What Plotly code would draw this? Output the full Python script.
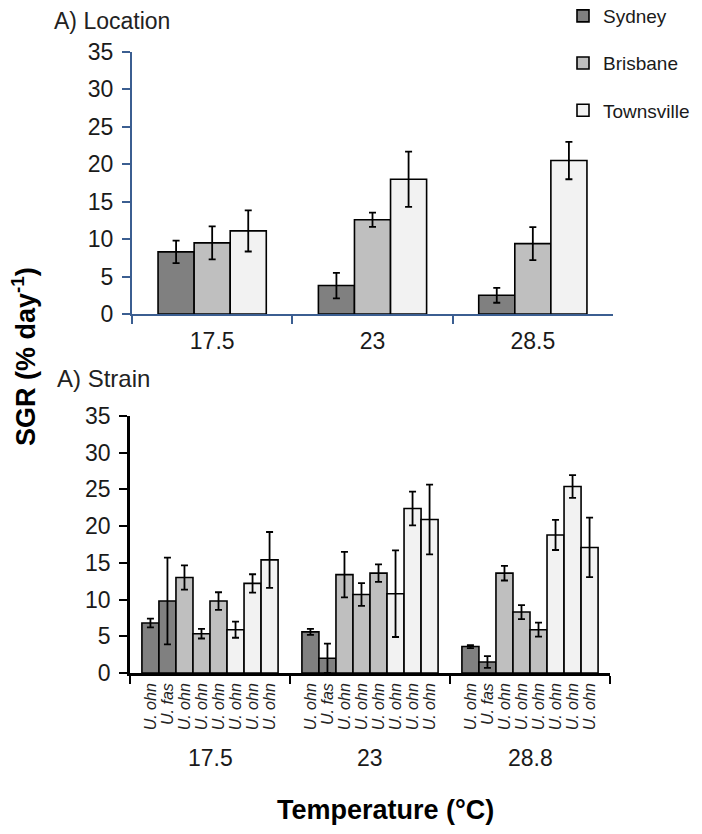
import plotly.graph_objects as go

# ---------------- data ----------------
locations = ["Sydney", "Brisbane", "Townsville"]
temps_top = ["17.5", "23", "28.5"]
sydney = [8.3, 3.8, 2.5]
sydney_err = [1.5, 1.7, 1.0]
brisbane = [9.5, 12.6, 9.4]
brisbane_err = [2.2, 0.95, 2.2]
townsville = [11.1, 18.0, 20.5]
townsville_err = [2.75, 3.7, 2.5]

temps_bottom = ["17.5", "23", "28.8"]
strains = ["U. ohn", "U. fas", "U. ohn", "U. ohn", "U. ohn", "U. ohn", "U. ohn", "U. ohn"]
strain_origin = ["Sydney", "Sydney", "Brisbane", "Brisbane", "Brisbane",
                 "Townsville", "Townsville", "Townsville"]
sgr_175 = [6.8, 9.8, 13.0, 5.35, 9.8, 5.9, 12.2, 15.4]
sgr_175_err = [0.6, 5.9, 1.65, 0.65, 1.2, 1.1, 1.25, 3.8]
sgr_23 = [5.6, 2.0, 13.4, 10.7, 13.6, 10.8, 22.4, 20.9]
sgr_23_err = [0.4, 2.0, 3.1, 1.55, 1.2, 5.9, 2.3, 4.75]
sgr_288 = [3.6, 1.5, 13.6, 8.3, 5.9, 18.8, 25.4, 17.1]
sgr_288_err = [0.2, 0.8, 1.0, 0.95, 0.95, 2.05, 1.55, 4.05]

# ---------------- style ----------------
FONT = "Liberation Sans, Arial, sans-serif"
colors = {"Sydney": "#808080", "Brisbane": "#bfbfbf", "Townsville": "#f2f2f2"}
BLUE = "#3b5e91"
TXT = "#1a1a1a"
PAGE_MARGIN = 8          # default body margin of the page
W, H = 702 - PAGE_MARGIN, 834 - PAGE_MARGIN
GROUP_SPAN = 9.4  # width of one temperature group, in bar widths

def px(x):
    return (x - PAGE_MARGIN) / W

def py(y):
    return 1 - (y - PAGE_MARGIN) / H

fig = go.Figure()

# ---------------- top panel ----------------
for name, vals, errs in [("Sydney", sydney, sydney_err),
                         ("Brisbane", brisbane, brisbane_err),
                         ("Townsville", townsville, townsville_err)]:
    fig.add_trace(go.Bar(
        x=temps_top, y=vals, name=name, legendgroup=name,
        marker=dict(color=colors[name], line=dict(color="black", width=1.6)),
        error_y=dict(type="data", array=errs, color="black", thickness=1.8, width=3.5),
        xaxis="x", yaxis="y",
    ))

# ---------------- bottom panel ----------------
groups = [(sgr_175, sgr_175_err), (sgr_23, sgr_23_err), (sgr_288, sgr_288_err)]
for loc in locations:
    xs, ys, es = [], [], []
    for g, (vals, errs) in enumerate(groups):
        for i, (v, e) in enumerate(zip(vals, errs)):
            if strain_origin[i] == loc:
                xs.append(g * GROUP_SPAN + (i - 3.5))
                ys.append(v)
                es.append(e)
    fig.add_trace(go.Bar(
        x=xs, y=ys, width=1, showlegend=False, name=loc,
        marker=dict(color=colors[loc], line=dict(color="black", width=1.6)),
        error_y=dict(type="data", array=es, color="black", thickness=1.8, width=3.5),
        xaxis="x2", yaxis="y2",
    ))

strain_x = [g * GROUP_SPAN + (i - 3.5) for g in range(len(temps_bottom)) for i in range(len(strains))]
strain_text = strains * len(temps_bottom)
# invisible trace to activate the label axis
fig.add_trace(go.Scatter(x=[strain_x[0]], y=[0], mode="markers", marker=dict(opacity=0),
                         showlegend=False, hoverinfo="skip", xaxis="x3", yaxis="y2"))

rng2 = [-GROUP_SPAN / 2, GROUP_SPAN * (len(temps_bottom) - 0.5)]
bounds = [-GROUP_SPAN / 2 + k * GROUP_SPAN for k in range(len(temps_bottom) + 1)]

tickfont = dict(family=FONT, size=23, color=TXT)
fig.update_layout(
    width=W, height=H,
    margin=dict(l=0, r=0, t=0, b=0, autoexpand=False),
    paper_bgcolor="white", plot_bgcolor="white",
    barmode="group", bargap=0.325, bargroupgap=0,
    showlegend=True,
    legend=dict(x=px(563), y=py(-3), xanchor="left", yanchor="top",
                font=dict(family=FONT, size=19, color=TXT),
                tracegroupgap=19.5, bgcolor="rgba(0,0,0,0)"),
    xaxis=dict(domain=[px(132), px(613)], anchor="y", type="category",
               range=[-0.5, 2.5], tickson="boundaries", ticks="outside", ticklen=8,
               tickwidth=1.5, tickcolor=BLUE, showline=True, linecolor=BLUE, linewidth=2,
               tickfont=tickfont, ticklabelstandoff=5, showgrid=False, zeroline=False,
               automargin=False),
    yaxis=dict(domain=[py(314), py(52)], anchor="x", range=[0, 35], dtick=5,
               ticks="outside", ticklen=8, tickwidth=1.5, tickcolor=BLUE,
               showline=True, linecolor=BLUE, linewidth=2, tickfont=tickfont,
               ticklabelstandoff=4, showgrid=False, zeroline=False, automargin=False),
    xaxis2=dict(domain=[px(130), px(610)], anchor="y2", range=rng2,
                tickmode="array", tickvals=bounds, showticklabels=False,
                ticks="outside", ticklen=8, tickwidth=2, tickcolor="black",
                showline=True, linecolor="black", linewidth=2.5,
                showgrid=False, zeroline=False, automargin=False),
    xaxis3=dict(overlaying="x2", anchor="y2", range=rng2, side="bottom",
                tickmode="array", tickvals=strain_x, ticktext=strain_text,
                tickangle=-90, ticks="", showline=False, showgrid=False, zeroline=False,
                tickfont=dict(family=FONT, size=16, color="#222222", style="italic"),
                ticklabelstandoff=6, automargin=False),
    yaxis2=dict(domain=[py(673), py(416)], anchor="x2", range=[0, 35], dtick=5,
                ticks="outside", ticklen=8, tickwidth=2, tickcolor="black",
                showline=True, linecolor="black", linewidth=2.5, tickfont=tickfont,
                ticklabelstandoff=4, showgrid=False, zeroline=False, automargin=False),
)

annots = [
    dict(text="A) Location", x=px(52), y=py(21), xanchor="left", yanchor="middle",
         font=dict(family=FONT, size=23, color="#222222")),
    dict(text="A) Strain", x=px(55), y=py(378), xanchor="left", yanchor="middle",
         font=dict(family=FONT, size=24, color="#222222")),
    dict(text="<b>SGR (% day<sup>-1</sup>)</b>", x=px(24), y=py(357), textangle=-90,
         xanchor="center", yanchor="middle",
         font=dict(family=FONT, size=27, color="black")),
    dict(text="<b>Temperature (°C)</b>", x=px(275), y=py(810), xanchor="left",
         yanchor="middle", font=dict(family=FONT, size=27, color="black")),
]
for g, t in enumerate(temps_bottom):
    annots.append(dict(text=t, x=g * GROUP_SPAN, xref="x2", y=py(758), yref="paper",
                       xanchor="center", yanchor="middle", font=tickfont))
for a in annots:
    a.setdefault("xref", "paper")
    a.setdefault("yref", "paper")
    a["showarrow"] = False
fig.update_layout(annotations=annots)

fig.write_html("out.html")
